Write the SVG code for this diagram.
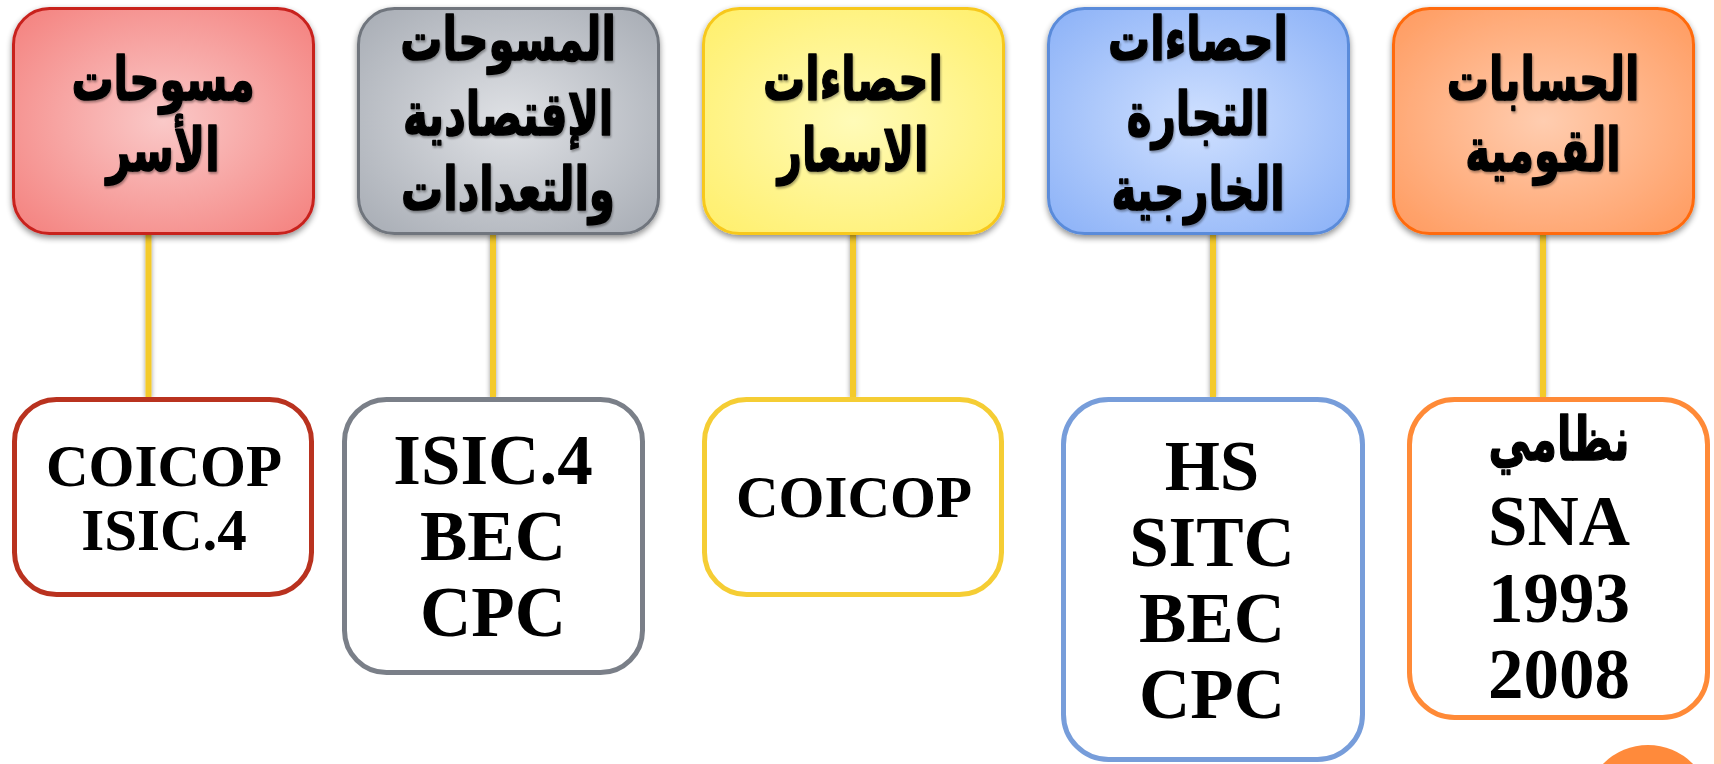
<svg xmlns="http://www.w3.org/2000/svg" width="1721" height="764" viewBox="0 0 1721 764">
<defs>
<filter id="sh" x="-10%" y="-10%" width="120%" height="125%">
<feGaussianBlur in="SourceAlpha" stdDeviation="3"/>
<feOffset dx="0" dy="3" result="b"/>
<feComponentTransfer><feFuncA type="linear" slope="0.45"/></feComponentTransfer>
<feMerge><feMergeNode/><feMergeNode in="SourceGraphic"/></feMerge>
</filter>
<filter id="lsh" x="-300%" y="-5%" width="700%" height="110%">
<feGaussianBlur in="SourceAlpha" stdDeviation="2.5"/>
<feComponentTransfer><feFuncA type="linear" slope="0.4"/></feComponentTransfer>
<feMerge><feMergeNode/><feMergeNode in="SourceGraphic"/></feMerge>
</filter>
<filter id="tsh" x="-5%" y="-10%" width="110%" height="130%">
<feGaussianBlur in="SourceAlpha" stdDeviation="1.2"/>
<feOffset dx="1" dy="2"/>
<feComponentTransfer><feFuncA type="linear" slope="0.35"/></feComponentTransfer>
<feMerge><feMergeNode/><feMergeNode in="SourceGraphic"/></feMerge>
</filter>
<radialGradient id="gRed" cx="50%" cy="50%" r="70%"><stop offset="0" stop-color="#FAC9C8"/><stop offset="1" stop-color="#F4807D"/></radialGradient>
<radialGradient id="gGray" cx="50%" cy="50%" r="70%"><stop offset="0" stop-color="#DFE1E5"/><stop offset="1" stop-color="#A7ACB4"/></radialGradient>
<radialGradient id="gYel" cx="50%" cy="50%" r="70%"><stop offset="0" stop-color="#FFFBB8"/><stop offset="1" stop-color="#FFEF6A"/></radialGradient>
<radialGradient id="gBlue" cx="50%" cy="50%" r="70%"><stop offset="0" stop-color="#CFE0FF"/><stop offset="1" stop-color="#8BB1F7"/></radialGradient>
<radialGradient id="gOr" cx="50%" cy="50%" r="70%"><stop offset="0" stop-color="#FFCDB0"/><stop offset="1" stop-color="#FF9A5E"/></radialGradient>
</defs>
<style>
.top{stroke-width:3;filter:url(#sh)}
.bot{fill:#fff;stroke-width:5}
.ar{font-family:"DejaVu Sans",sans-serif;font-weight:bold;font-size:60px;fill:#000;stroke:#000;stroke-width:1.6;stroke-linejoin:round;text-anchor:middle;filter:url(#tsh)}
.lt{font-family:"Liberation Serif","Times New Roman",serif;font-weight:bold;font-size:71px;fill:#000;text-anchor:middle}
.lts{font-size:59px}
.con{stroke:#F4CA2A;stroke-width:6;fill:none}
</style>
<rect x="1714" y="0" width="7" height="764" fill="#FFCAB6"/>
<circle cx="1648" cy="808" r="63" fill="#FF8A3B"/>
<g id="connectors" filter="url(#lsh)">
<line class="con" x1="148.5" y1="234" x2="148.5" y2="398"/>
<line class="con" x1="493" y1="234" x2="493" y2="398"/>
<line class="con" x1="853" y1="234" x2="853" y2="398"/>
<line class="con" x1="1213" y1="234" x2="1213" y2="398"/>
<line class="con" x1="1543" y1="234" x2="1543" y2="398"/>
</g>
<g id="top1">
<rect class="top" x="13.5" y="8.5" width="300" height="225" rx="36" fill="url(#gRed)" stroke="#C8201E"/>
<text class="ar" transform="translate(163,100) scale(0.7,1)">مسوحات</text>
<text class="ar" transform="translate(163,171) scale(0.7,1)">الأسر</text>
</g>
<g id="top2">
<rect class="top" x="358.5" y="8.5" width="300" height="225" rx="36" fill="url(#gGray)" stroke="#6F757D"/>
<text class="ar" transform="translate(508,60) scale(0.7,1)">المسوحات</text>
<text class="ar" transform="translate(508,135) scale(0.7,1)">الإقتصادية</text>
<text class="ar" transform="translate(508,210) scale(0.7,1)">والتعدادات</text>
</g>
<g id="top3">
<rect class="top" x="703.5" y="8.5" width="300" height="225" rx="36" fill="url(#gYel)" stroke="#F7C81C"/>
<text class="ar" transform="translate(853,100) scale(0.7,1)">احصاءات</text>
<text class="ar" transform="translate(853,171) scale(0.7,1)">الاسعار</text>
</g>
<g id="top4">
<rect class="top" x="1048.5" y="8.5" width="300" height="225" rx="36" fill="url(#gBlue)" stroke="#5A8BDA"/>
<text class="ar" transform="translate(1198,60) scale(0.7,1)">احصاءات</text>
<text class="ar" transform="translate(1198,135) scale(0.7,1)">التجارة</text>
<text class="ar" transform="translate(1198,210) scale(0.7,1)">الخارجية</text>
</g>
<g id="top5">
<rect class="top" x="1393.5" y="8.5" width="300" height="225" rx="36" fill="url(#gOr)" stroke="#FF6A0A"/>
<text class="ar" transform="translate(1543,100) scale(0.7,1)">الحسابات</text>
<text class="ar" transform="translate(1543,171) scale(0.7,1)">القومية</text>
</g>
<g id="bot1">
<rect class="bot" x="14.5" y="399.5" width="297" height="195" rx="42" stroke="#B9321F"/>
<text class="lt lts" x="164" y="486">COICOP</text>
<text class="lt lts" x="164" y="550">ISIC.4</text>
</g>
<g id="bot2">
<rect class="bot" x="344.5" y="399.5" width="298" height="273" rx="42" stroke="#7A7F88"/>
<text class="lt" x="493" y="484">ISIC.4</text>
<text class="lt" x="493" y="560">BEC</text>
<text class="lt" x="493" y="636">CPC</text>
</g>
<g id="bot3">
<rect class="bot" x="704.5" y="399.5" width="297" height="195" rx="42" stroke="#F5CD34"/>
<text class="lt lts" x="854" y="517">COICOP</text>
</g>
<g id="bot4">
<rect class="bot" x="1063.5" y="399.5" width="299" height="360" rx="45" stroke="#779DDA"/>
<text class="lt" x="1212" y="490">HS</text>
<text class="lt" x="1212" y="566">SITC</text>
<text class="lt" x="1212" y="642">BEC</text>
<text class="lt" x="1212" y="718">CPC</text>
</g>
<g id="bot5">
<rect class="bot" x="1409.5" y="399.5" width="298" height="318" rx="45" stroke="#FF8A37"/>
<text class="ar" style="filter:none" transform="translate(1559,460) scale(0.7,1)">نظامي</text>
<text class="lt" x="1559" y="545">SNA</text>
<text class="lt" x="1559" y="622">1993</text>
<text class="lt" x="1559" y="698">2008</text>
</g>
</svg>
